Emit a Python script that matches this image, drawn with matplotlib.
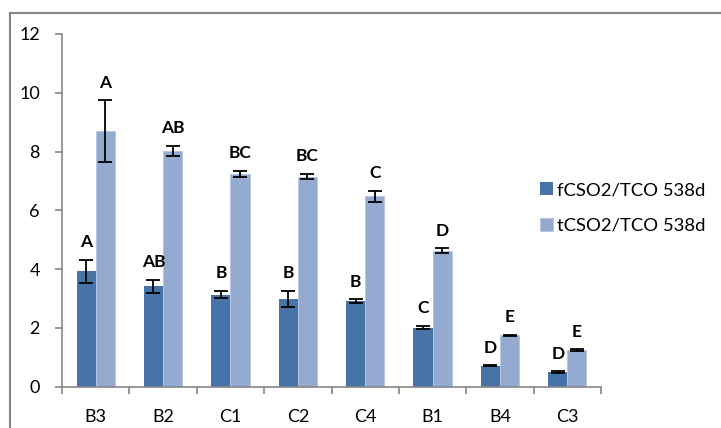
import matplotlib
matplotlib.use("Agg")
import matplotlib.pyplot as plt
import numpy as np
from matplotlib.lines import Line2D

plt.rcParams['font.family'] = ['Lato', 'DejaVu Sans']

categories = ["B3", "B2", "C1", "C2", "C4", "B1", "B4", "C3"]
f_vals = [3.92, 3.41, 3.13, 2.99, 2.91, 2.01, 0.71, 0.50]
f_err = [0.40, 0.23, 0.12, 0.28, 0.06, 0.06, 0.02, 0.02]
t_vals = [8.69, 8.03, 7.24, 7.15, 6.48, 4.63, 1.75, 1.25]
t_err = [1.05, 0.17, 0.10, 0.10, 0.18, 0.08, 0.02, 0.02]
f_letters = ["A", "AB", "B", "B", "B", "C", "D", "D"]
t_letters = ["A", "AB", "BC", "BC", "C", "D", "E", "E"]
series_names = ["fCSO2/TCO 538d", "tCSO2/TCO 538d"]

c_dark = "#4673A8"
c_light = "#94AAD1"
axis_col = "#868686"

fig = plt.figure(figsize=(7.21, 4.28), dpi=100)
ax = fig.add_axes([62/721, 1-386.7/428, (601-62)/721, (386.7-34)/428])

x = np.arange(len(categories))
w = 0.284
b1 = ax.bar(x - w/2, f_vals, w, color=c_dark, label=series_names[0], zorder=2)
b2 = ax.bar(x + w/2, t_vals, w, color=c_light, label=series_names[1], zorder=2,
            edgecolor="#B4C4E0", linewidth=0.6)
ax.errorbar(x - w/2, f_vals, yerr=f_err, fmt='none', ecolor='black', elinewidth=1.3,
            capsize=5, capthick=1.3, zorder=3)
ax.errorbar(x + w/2, t_vals, yerr=t_err, fmt='none', ecolor='black', elinewidth=1.3,
            capsize=5, capthick=1.3, zorder=3)

for xi, v, e, lab in zip(x - w/2, f_vals, f_err, f_letters):
    ax.annotate(lab, (xi, v + e), xytext=(0, 7), textcoords='offset points',
                ha='center', va='bottom', fontsize=12.5, fontweight='bold')
for xi, v, e, lab in zip(x + w/2, t_vals, t_err, t_letters):
    ax.annotate(lab, (xi, v + e), xytext=(0, 7), textcoords='offset points',
                ha='center', va='bottom', fontsize=12.5, fontweight='bold')

ax.set_xlim(-0.5, len(categories) - 0.5)
ax.set_ylim(0, 12)
ax.set_yticks(np.arange(0, 13, 2))
ax.set_xticks(x)
ax.set_xticklabels(categories)
ax.set_xticks(np.arange(-0.5, len(categories)), minor=True)
ax.tick_params(axis='x', which='major', length=0, pad=16, labelsize=13)
ax.tick_params(axis='x', which='minor', length=5, color=axis_col, width=1.2, direction='out')
ax.tick_params(axis='y', length=5, color=axis_col, width=1.2, pad=11, labelsize=13)

for s in ['top', 'right']:
    ax.spines[s].set_visible(False)
for s in ['left', 'bottom']:
    ax.spines[s].set_color(axis_col)
    ax.spines[s].set_linewidth(1.2)

leg = fig.legend(handles=[b1, b2], labels=series_names, loc='upper left',
                 bbox_to_anchor=(533/721, 1-175/428), frameon=False, fontsize=13.3,
                 handlelength=0.7, handleheight=0.7, handletextpad=0.2,
                 labelspacing=1.05, borderaxespad=0)

# outer chart border (left and top)
fig.add_artist(Line2D([9.5/721, 9.5/721], [0, 1-12.5/428], transform=fig.transFigure,
                      color=axis_col, linewidth=1.5))
fig.add_artist(Line2D([9.5/721, 1], [1-12.5/428, 1-12.5/428], transform=fig.transFigure,
                      color=axis_col, linewidth=1.5))

fig.savefig("out.png", dpi=100)
